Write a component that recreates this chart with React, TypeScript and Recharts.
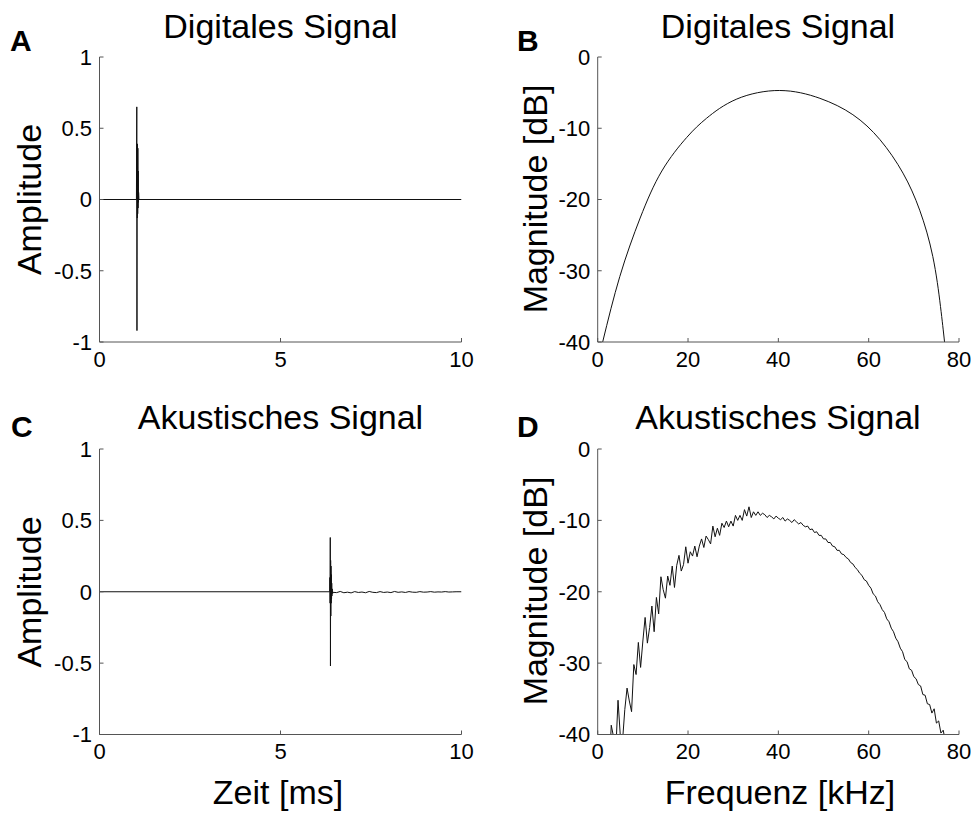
import React from 'react';
import { LineChart, Line, XAxis, YAxis } from 'recharts';

// Panel A: digital signal (time in ms, amplitude)
const timeA = [0, 1.02, 1.03, 1.035, 1.04, 1.045, 1.05, 1.055, 1.06, 1.065, 1.07, 1.075, 1.08, 1.09, 10];
const ampA = [0, 0, 0.65, -0.92, 0.39, -0.13, 0.39, -0.1, 0.36, -0.06, 0.2, -0.02, 0.05, 0, 0];

// Panel C: acoustic signal
const timeC = [0, 6.36, 6.365, 6.37, 6.375, 6.38, 6.385, 6.39, 6.395, 6.4, 6.405, 6.41, 6.415, 6.42, 6.43, 6.44, 6.45,
  6.55, 6.65, 6.75, 6.85, 6.95, 7.05, 7.15, 7.25, 7.35, 7.45, 7.55, 7.65, 7.75, 7.85, 7.95, 8.05, 8.15, 8.25, 8.35,
  8.45, 8.55, 8.65, 8.75, 8.85, 8.95, 9.05, 9.15, 9.25, 9.35, 9.45, 9.55, 9.65, 9.75, 9.85, 10];
const ampC = [0, 0, 0.1, -0.08, 0.38, -0.52, 0.22, -0.17, 0.18, -0.08, 0.12, -0.05, 0.06, -0.03, 0.02, -0.012, -0.004,
  -0.006, 0.002, -0.007, -0.003, -0.008, 0.001, -0.005, -0.002, -0.007, 0.002, -0.004, -0.006, 0.001, -0.005, -0.002,
  -0.006, 0.002, -0.004, -0.001, -0.005, 0.001, -0.003, -0.004, 0.001, -0.003, -0.002, 0.001, -0.003, -0.001, -0.002,
  0.001, -0.002, -0.001, 0, 0];

// Panel B: spectrum of the digital signal
const freqB = [1.1, 4.9, 9.4, 14.2, 19.7, 24.1, 30.8, 40.3, 49.2, 56.5, 62.5, 67.6, 71.3, 74.2, 75.9, 76.8];
const magB = [-40, -30.8, -22.6, -16.0, -11.3, -8.6, -5.9, -4.7, -5.8, -8.1, -11.6, -16.3, -21.5, -28.0, -35.0, -40];

// Panel D: spectrum of the acoustic signal
const freqD = [2, 2.5, 3, 3.5, 4, 4.5, 5, 5.5, 6, 6.5, 7, 7.5, 8, 8.5, 9, 9.5, 10, 10.5, 11, 11.5, 12, 12.5, 13, 13.5,
  14, 14.5, 15, 15.5, 16, 16.5, 17, 17.5, 18, 18.5, 19, 19.5, 20, 20.5, 21, 21.5, 22, 22.5, 23, 23.5, 24, 24.5, 25,
  25.5, 26, 26.5, 27, 27.5, 28, 28.5, 29, 29.5, 30, 30.5, 31, 31.5, 32, 32.5, 33, 33.5, 34, 34.5, 35, 35.5, 36, 36.5,
  37, 37.5, 38, 38.5, 39, 39.5, 40, 40.5, 41, 41.5, 42, 42.5, 43, 43.5, 44, 44.5, 45, 45.5, 46, 46.5, 47, 47.5, 48,
  48.5, 49, 49.5, 50, 50.5, 51, 51.5, 52, 52.5, 53, 53.5, 54, 54.5, 55, 55.5, 56, 56.5, 57, 57.5, 58, 58.5, 59, 59.5,
  60, 60.5, 61, 61.5, 62, 62.5, 63, 63.5, 64, 64.5, 65, 65.5, 66, 66.5, 67, 67.5, 68, 68.5, 69, 69.5, 70, 70.5, 71,
  71.5, 72, 72.5, 73, 73.5, 74, 74.5, 75, 75.5, 76, 76.5, 77, 77.5, 78];
const magD = [-41.8, -45.8, -38.7, -40.3, -42.4, -35.2, -40.1, -40.9, -36.5, -33.5, -35.3, -36.8, -30.2, -31.6, -27.1,
  -30.6, -26.9, -23.6, -27.2, -25.0, -22.0, -25.6, -20.8, -23.1, -17.9, -19.7, -20.9, -17.8, -19.1, -16.4, -19.4,
  -16.3, -14.9, -17.1, -16.2, -13.7, -16.0, -14.4, -15.0, -13.6, -15.1, -13.6, -12.6, -13.8, -12.2, -12.7, -13.3,
  -10.8, -12.3, -11.1, -12.1, -10.4, -11.0, -10.1, -10.9, -10.1, -10.8, -9.3, -10.0, -9.3, -10.0, -8.5, -9.4, -8.1,
  -9.6, -8.8, -9.3, -8.8, -9.3, -9.0, -9.2, -9.6, -9.3, -9.5, -9.8, -9.4, -9.7, -9.9, -9.6, -10.1, -9.8, -10.0,
  -10.3, -9.9, -10.2, -10.5, -10.3, -10.7, -10.9, -10.8, -11.3, -11.2, -11.7, -11.6, -12.1, -12.1, -12.6, -12.6,
  -13.1, -13.1, -13.6, -13.7, -14.2, -14.2, -14.7, -14.8, -15.2, -15.4, -15.9, -16.1, -16.6, -16.9, -17.4, -17.7,
  -18.3, -18.5, -19.1, -19.5, -20.3, -20.6, -21.4, -21.8, -22.5, -22.9, -23.8, -24.2, -25.1, -25.6, -26.5, -27.0,
  -27.9, -28.4, -29.5, -29.8, -30.8, -31.0, -31.9, -32.2, -33.0, -33.2, -34.4, -34.5, -35.7, -35.8, -37.0, -36.4,
  -38.4, -38.1, -39.8, -39.4, -41.0, -40.2, -42.5];

const timeTicks = [0, 5, 10];
const ampTicks = [-1, -0.5, 0, 0.5, 1];
const freqTicks = [0, 20, 40, 60, 80];
const magTicks = [-40, -30, -20, -10, 0];

const zip = (xs: number[], ys: number[]) => {
  const n = Math.min(xs.length, ys.length);
  const out: { x: number; y: number }[] = [];
  for (let i = 0; i < n; i++) out.push({ x: xs[i], y: ys[i] });
  return out;
};

const W = 974;
const H = 814;
const FONT = '"Liberation Sans", Arial, Helvetica, sans-serif';
const AXIS = '#555';
const LINE = '#111';

type PanelProps = {
  data: { x: number; y: number }[];
  xDomain: [number, number];
  yDomain: [number, number];
  xTicks: number[];
  yTicks: number[];
  margin: { left: number; right: number; top: number; bottom: number };
  curve: 'linear' | 'natural';
};

function Panel({ data, xDomain, yDomain, xTicks, yTicks, margin, curve }: PanelProps) {
  const tickStyle = { fontSize: 22, fill: '#000', fontFamily: FONT };
  return (
    <div style={{ position: 'absolute', left: 0, top: 0 }}>
      <LineChart width={W} height={H} data={data} margin={margin}>
        <XAxis dataKey="x" type="number" domain={xDomain} ticks={xTicks} interval={0} allowDataOverflow
          height={40} tickSize={-4} tickMargin={13} axisLine={{ stroke: AXIS }} tickLine={{ stroke: AXIS }} tick={tickStyle} />
        <XAxis xAxisId="top" dataKey="x" orientation="top" type="number" domain={xDomain} ticks={xTicks} interval={0}
          allowDataOverflow height={0} tickSize={-4} tickFormatter={() => ''} axisLine={{ stroke: AXIS }} tickLine={{ stroke: AXIS }} />
        <YAxis type="number" domain={yDomain} ticks={yTicks} interval={0} allowDataOverflow width={70}
          tickSize={-4} tickMargin={11.5} axisLine={{ stroke: AXIS }} tickLine={{ stroke: AXIS }} tick={tickStyle} />
        <YAxis yAxisId="right" orientation="right" type="number" domain={yDomain} ticks={yTicks} interval={0}
          allowDataOverflow width={0} tickSize={-4} tickFormatter={() => ''} axisLine={{ stroke: AXIS }} tickLine={{ stroke: AXIS }} />
        <Line dataKey="y" type={curve} stroke={LINE} strokeWidth={1} dot={false} isAnimationActive={false} />
      </LineChart>
    </div>
  );
}

export default function App() {
  const dataA = zip(timeA, ampA);
  const dataB = zip(freqB, magB);
  const dataC = zip(timeC, ampC);
  const dataD = zip(freqD, magD);
  const mA = { left: 29.5, top: 57, right: 512.5, bottom: 432 };
  const mB = { left: 527.7, top: 57, right: 15, bottom: 432 };
  const mC = { left: 29.5, top: 449, right: 512.5, bottom: 39.5 };
  const mD = { left: 527.7, top: 449, right: 15, bottom: 39.5 };
  const txt = { fontFamily: FONT, fill: '#000' };
  return (
    <div style={{ position: 'absolute', left: 0, top: 0, width: W, height: H, background: '#fff', fontFamily: FONT }}>
      <Panel data={dataA} xDomain={[0, 10]} yDomain={[-1, 1]} xTicks={timeTicks} yTicks={ampTicks} margin={mA} curve="linear" />
      <Panel data={dataB} xDomain={[0, 80]} yDomain={[-40, 0]} xTicks={freqTicks} yTicks={magTicks} margin={mB} curve="natural" />
      <Panel data={dataC} xDomain={[0, 10]} yDomain={[-1, 1]} xTicks={timeTicks} yTicks={ampTicks} margin={mC} curve="linear" />
      <Panel data={dataD} xDomain={[0, 80]} yDomain={[-40, 0]} xTicks={freqTicks} yTicks={magTicks} margin={mD} curve="linear" />
      <svg width={W} height={H} style={{ position: 'absolute', left: 0, top: 0, pointerEvents: 'none' }}>
        <g style={txt}>
          <text x={10} y={51} fontSize={30} fontWeight="bold">A</text>
          <text x={517} y={51} fontSize={30} fontWeight="bold">B</text>
          <text x={11} y={437} fontSize={30} fontWeight="bold">C</text>
          <text x={517} y={437} fontSize={30} fontWeight="bold">D</text>

          <text x={280.5} y={38} fontSize={34} textAnchor="middle">Digitales Signal</text>
          <text x={778} y={38} fontSize={34} textAnchor="middle">Digitales Signal</text>
          <text x={280.5} y={429} fontSize={34} textAnchor="middle">Akustisches Signal</text>
          <text x={778} y={429} fontSize={34} textAnchor="middle">Akustisches Signal</text>

          <text x={40.5} y={199.5} fontSize={34} textAnchor="middle" transform="rotate(-90 40.5 199.5)">Amplitude</text>
          <text x={547} y={199} fontSize={34} textAnchor="middle" transform="rotate(-90 547 199)">Magnitude [dB]</text>
          <text x={40.5} y={592} fontSize={34} textAnchor="middle" transform="rotate(-90 40.5 592)">Amplitude</text>
          <text x={547} y={591} fontSize={34} textAnchor="middle" transform="rotate(-90 547 591)">Magnitude [dB]</text>

          <text x={278} y={804} fontSize={34} textAnchor="middle">Zeit [ms]</text>
          <text x={780} y={804} fontSize={34} textAnchor="middle">Frequenz [kHz]</text>
        </g>
      </svg>
    </div>
  );
}
